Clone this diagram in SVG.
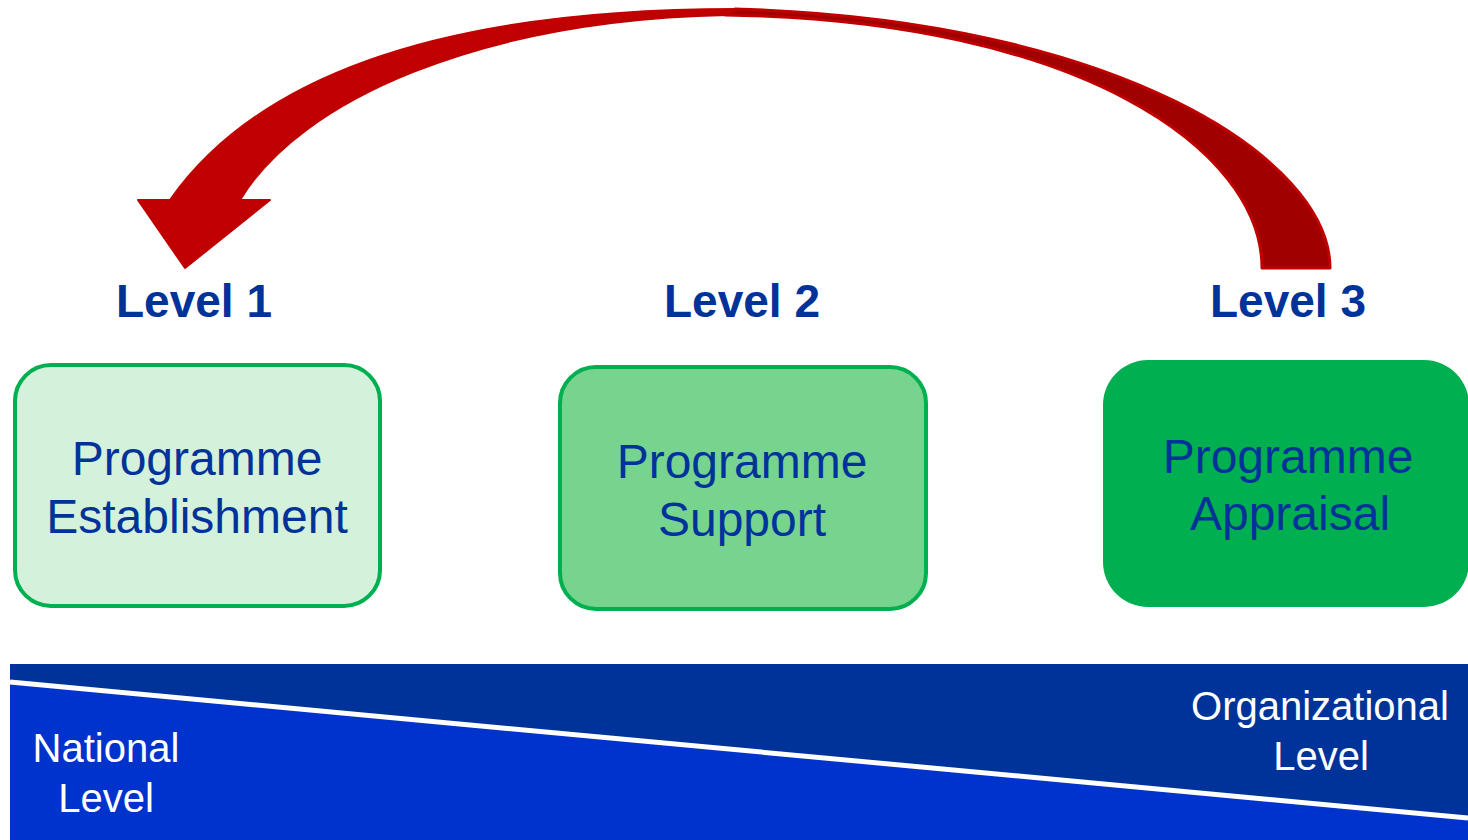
<svg xmlns="http://www.w3.org/2000/svg" width="1468" height="840" viewBox="0 0 1468 840">
<style>
.lvl{font-family:"Liberation Sans",Arial,sans-serif;font-weight:bold;font-size:46px;fill:#003399;text-anchor:middle}
.bt{font-family:"Liberation Sans",Arial,sans-serif;font-size:48px;fill:#003399;text-anchor:middle}
.wt{font-family:"Liberation Sans",Arial,sans-serif;font-size:40px;fill:#ffffff;text-anchor:middle}
</style>
<rect width="1468" height="840" fill="#ffffff"/>
<g id="band">
<rect x="10" y="664" width="1458" height="176" fill="#003399"/>
<polygon points="10,682 1468,818 1468,840 10,840" fill="#0033CC"/>
<line x1="10" y1="682" x2="1468" y2="818" stroke="#ffffff" stroke-width="5"/>
<text class="wt" x="106" y="762">National</text>
<text class="wt" x="106" y="812">Level</text>
<text class="wt" x="1320" y="720">Organizational</text>
<text class="wt" x="1321" y="770">Level</text>
</g>
<g id="connectors">
<path d="M735,9 C1120,20 1330,160 1330,268 L1262,268 C1262,150 1080,20 725,15 Z" fill="#A00000" stroke="#C00000" stroke-width="3" stroke-linejoin="round"/>
<path d="M737,9 C450,9 260,72 170,200 L138,200 L185,268 L270,200 L240,200 C300,100 480,20 727,15 Z" fill="#C00000" stroke="#C00000" stroke-width="2" stroke-linejoin="round"/>
</g>
<g id="node1">
<text class="lvl" x="194" y="317">Level 1</text>
<rect x="15" y="365" width="365" height="241" rx="36" fill="#D4F1DB" stroke="#00B050" stroke-width="4"/>
<text class="bt" x="197" y="475">Programme</text>
<text class="bt" x="197" y="533">Establishment</text>
</g>
<g id="node2">
<text class="lvl" x="742" y="317">Level 2</text>
<rect x="560" y="367" width="366" height="242" rx="36" fill="#77D48E" stroke="#00B050" stroke-width="4"/>
<text class="bt" x="742" y="478">Programme</text>
<text class="bt" x="742" y="536">Support</text>
</g>
<g id="node3">
<text class="lvl" x="1288" y="317">Level 3</text>
<rect x="1103" y="360" width="366" height="247" rx="45" fill="#00B050"/>
<text class="bt" x="1288" y="473">Programme</text>
<text class="bt" x="1290" y="530">Appraisal</text>
</g>
</svg>
